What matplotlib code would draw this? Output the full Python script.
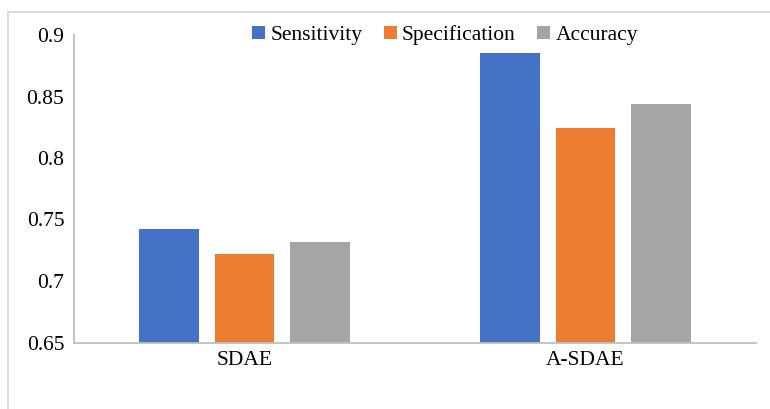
import numpy as np
import matplotlib
matplotlib.use('Agg')
import matplotlib.pyplot as plt
from matplotlib.patches import Rectangle

plt.rcParams['font.family'] = ['Liberation Serif', 'DejaVu Serif']

# 数据
models = ['SDAE', 'A-SDAE']
series = ['Sensitivity', 'Specification', 'Accuracy']
sensitivity = [0.742, 0.885]
specification = [0.722, 0.824]
accuracy = [0.732, 0.844]
colors = ['#4472C4', '#ED7D31', '#A5A5A5']

fig = plt.figure(figsize=(7.7, 4.09), dpi=100)
ax = fig.add_axes([74 / 770, 1 - 342.5 / 409, 682 / 770, 307.5 / 409])

x = np.arange(len(models)) + 0.5
width = 0.1745
step = 0.2214
for i, (name, vals) in enumerate(zip(series, [sensitivity, specification, accuracy])):
    ax.bar(x + (i - 1) * step, vals, width, color=colors[i], label=name, zorder=2)

ax.set_xlim(0, 2)
ax.set_ylim(0.65, 0.9)
ax.set_yticks([0.65, 0.7, 0.75, 0.8, 0.85, 0.9])
ax.set_yticklabels(['0.65', '0.7', '0.75', '0.8', '0.85', '0.9'])
ax.set_xticks(x)
ax.set_xticklabels(models)
ax.tick_params(axis='both', length=0, labelsize=15.5)
ax.tick_params(axis='y', pad=7)
ax.tick_params(axis='x', pad=6)

for side in ['top', 'right']:
    ax.spines[side].set_visible(False)
ax.spines['left'].set_color('#bfbfbf')
ax.spines['bottom'].set_color('#bfbfbf')
ax.spines['left'].set_linewidth(1.3)
ax.spines['bottom'].set_linewidth(1.3)

fig.legend(loc='center', bbox_to_anchor=(445 / 770, 1 - 35 / 409), ncol=3,
           frameon=False, fontsize=15.5, handlelength=0.6, handleheight=0.6,
           handletextpad=0.25, columnspacing=1.0)

# 外框
top = 1 - 12 / 409
fig.patches.append(Rectangle((8 / 770, -0.2), 1.2, top + 0.2,
                             transform=fig.transFigure, fill=False,
                             edgecolor='#d9d9d9', linewidth=1.3))

fig.savefig('out.png', dpi=100)
